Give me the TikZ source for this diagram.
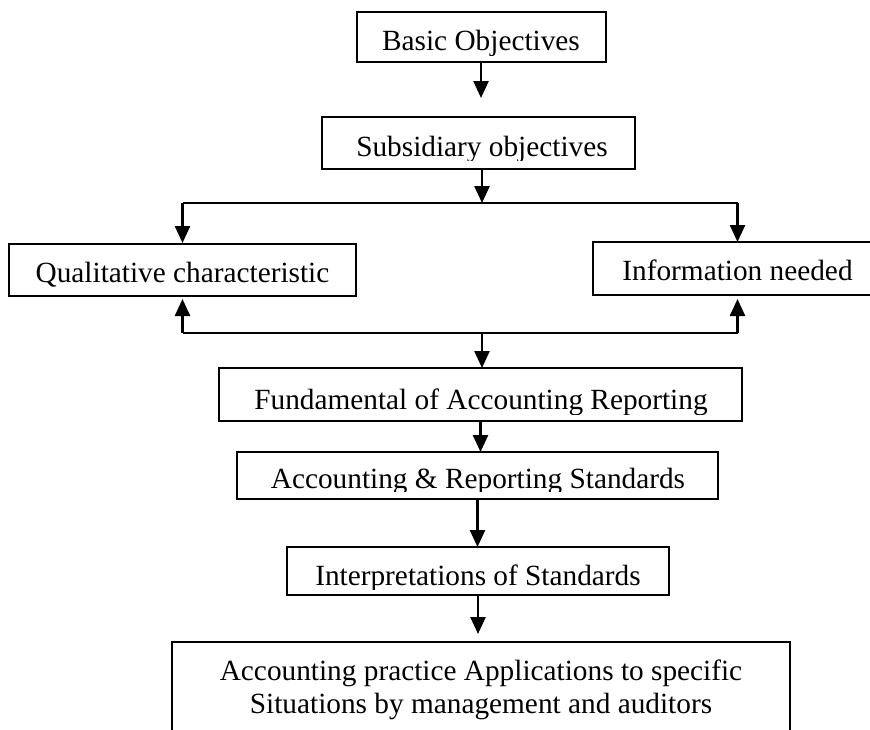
\documentclass[tikz,border=0pt]{standalone}
\usepackage{fontspec}
\setmainfont{Liberation Serif}
\usetikzlibrary{arrows.meta}
\begin{document}
\begin{tikzpicture}[x=1pt,y=-1pt,
  box/.style={draw, line width=2pt, inner sep=0pt, outer sep=0pt},
  txt/.style={inner sep=0pt, anchor=base, font=\fontsize{29.3}{33.7}\selectfont},
  arr/.style={line width=2.5pt, -{Triangle[length=17pt,width=15pt]}},
  ln/.style={line width=2.5pt}]
\useasboundingbox (0,0) rectangle (870,729);
\clip (0,0) rectangle (870,729);
% boxes
\node[box, minimum width=249pt, minimum height=50pt] (b1) at (481,37) {};
\node[box, minimum width=313pt, minimum height=52pt] (b2) at (478,143) {};
\node[box, minimum width=347pt, minimum height=52pt] (b3) at (182.5,270) {};
\node[box, minimum width=289pt, minimum height=53pt] (b4) at (737.5,268.5) {};
\node[box, minimum width=523pt, minimum height=53pt] (b5) at (480.5,394.5) {};
\node[box, minimum width=481pt, minimum height=47pt] (b6) at (477.5,475.5) {};
\node[box, minimum width=382pt, minimum height=48pt] (b7) at (478,571) {};
\node[box, minimum width=618pt, minimum height=118pt] (b8) at (481,701) {};
% texts (descenders clipped as in the reference)
\begin{scope}\clip (300,0) rectangle (700,55);
\node[txt] (t1) at (481,50.5) {Basic Objectives};\end{scope}
\begin{scope}\clip (300,100) rectangle (700,160.5);
\node[txt] (t2) at (482,156) {Subsidiary objectives};\end{scope}
\node[txt] (t3) at (182.5,282) {Qualitative characteristic};
\node[txt] (t4) at (737.5,280) {Information needed};
\begin{scope}\clip (200,360) rectangle (760,414);
\node[txt] (t5) at (481,409) {Fundamental of Accounting Reporting};\end{scope}
\begin{scope}\clip (200,440) rectangle (760,491);
\node[txt] (t6) at (478,488) {Accounting \& Reporting Standards};\end{scope}
\begin{scope}\clip (200,540) rectangle (760,589);
\node[txt] (t7) at (478,585) {Interpretations of Standards};\end{scope}
\node[txt] (t8a) at (481,680) {Accounting practice Applications to specific};
\node[txt] (t8b) at (481,713) {Situations by management and auditors};
% junctions
\coordinate (jt) at (482,203);
\coordinate (jb) at (482,333);
% connectors
\draw[arr, shorten >=19pt] (b1.south) -- (b1.south |- b2.north);
\draw[arr] (b2.south -| jt) -- (jt);
\draw[ln] (jt -| b3.north) -- (jt -| b4.north);
\draw[arr, shorten >=1pt] (jt -| b3.north) -- (b3.north);
\draw[arr] (jt -| b4.north) -- (b4.north);
\draw[ln] (jb -| b3.south) -- (jb -| b4.south);
\draw[arr, shorten >=3pt] (jb -| b3.south) -- (b3.south);
\draw[arr, shorten >=4pt] (jb -| b4.south) -- (b4.south);
\draw[arr] (jb) -- (jb |- b5.north);
\draw[arr] (b5.south) -- (b5.south |- b6.north);
\draw[arr] (b6.south) -- (b6.south |- b7.north);
\draw[arr, shorten >=8pt] (b7.south) -- (b7.south |- b8.north);
\end{tikzpicture}
\end{document}
